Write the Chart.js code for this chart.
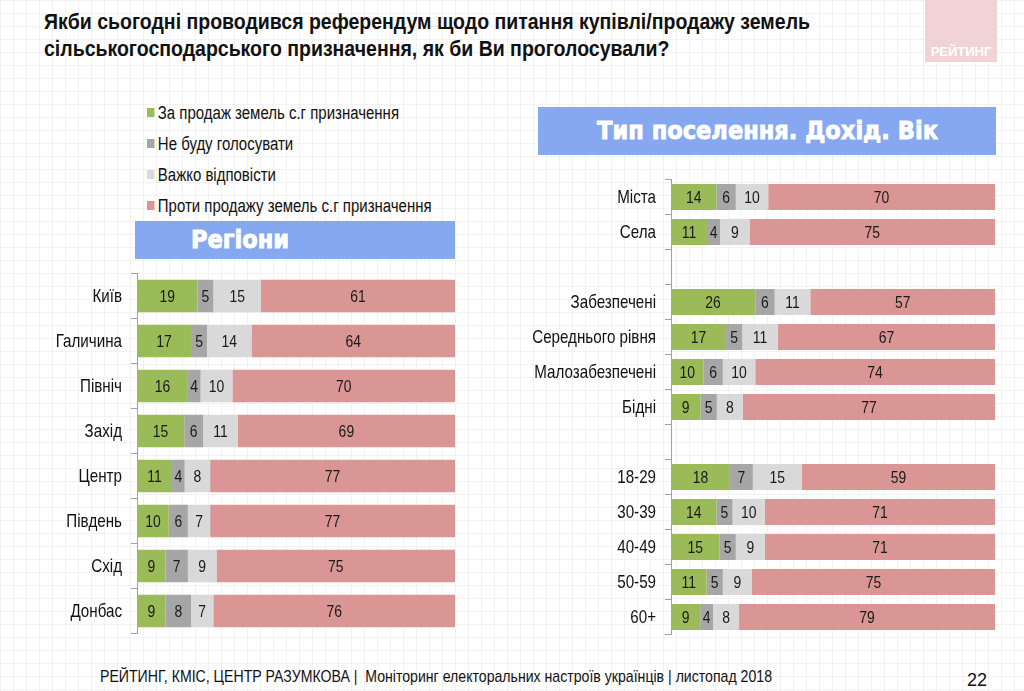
<!DOCTYPE html>
<html><head><meta charset="utf-8">
<script src="https://cdn.jsdelivr.net/npm/chart.js@4/dist/chart.umd.min.js"></script>
<style>
html,body{margin:0;padding:0;}
body{width:1024px;height:691px;position:relative;overflow:hidden;
 background-color:#fff;
 background-image:linear-gradient(#f2f2f2 1px,transparent 1px),linear-gradient(90deg,#f2f2f2 1px,transparent 1px);
 background-size:13px 13px;
 font-family:"Liberation Sans",Arial,sans-serif;}
.abs{position:absolute;white-space:nowrap;}
.title{left:44px;font-size:22px;font-weight:bold;line-height:26px;color:#111;}
#logo{left:925px;top:0;width:72px;height:62px;background:#f2d3d5;}
#logo span{position:absolute;left:0;right:0;top:44px;text-align:center;color:#fff;font-weight:bold;font-size:13px;}
.leg{left:147px;font-size:18px;color:#111;line-height:20px;}
.leg i{display:inline-block;width:9px;height:9px;margin-right:4px;vertical-align:2px;}
.banner{background:#86a8f0;}
.btext{color:#fff;font-family:"DejaVu Sans",sans-serif;font-weight:bold;font-size:24px;line-height:28px;-webkit-text-stroke:0.9px #fff;}
#footer{left:100px;top:667px;font-size:17px;color:#111;}
#page{left:967px;top:670px;font-size:18px;color:#111;}
canvas{position:absolute;}
</style></head>
<body>
<div id="t1" class="abs title" style="top:9px;">Якби сьогодні проводився референдум щодо питання купівлі/продажу земель</div>
<div id="t2" class="abs title" style="top:36px;">сільськогосподарського призначення, як би Ви проголосували?</div>
<div id="logo" class="abs"><span>РЕЙТИНГ</span></div>
<div id="legend"></div>
<div class="abs banner" style="left:135px;top:221px;width:320px;height:38px;"></div>
<div id="b1" class="abs btext" style="left:191px;top:226px;">Регіони</div>
<div class="abs banner" style="left:538px;top:107px;width:458px;height:48px;"></div>
<div id="b2" class="abs btext" style="left:597px;top:117px;">Тип поселення. Дохід. Вік</div>
<div id="footer" class="abs">РЕЙТИНГ, КМІС, ЦЕНТР РАЗУМКОВА |&nbsp; Моніторинг електоральних настроїв українців | листопад 2018</div>
<div id="page" class="abs">22</div>
<div class="abs" style="left:0;top:265px;width:465px;height:375px;"><canvas id="c1"></canvas></div>
<div class="abs" style="left:520px;top:170px;width:490px;height:470px;"><canvas id="c2"></canvas></div>
<script>
const seriesNames = ["За продаж земель с.г призначення","Не буду голосувати","Важко відповісти","Проти продажу земель с.г призначення"];
const seriesColors = ["#9bbb59","#a6a6a6","#d9d9d9","#d99694"];

const regionLabels = ["Київ","Галичина","Північ","Захід","Центр","Південь","Схід","Донбас"];
const regionFor    = [19,17,16,15,11,10,9,9];
const regionNoVote = [5,5,4,6,4,6,7,8];
const regionHard   = [15,14,10,11,8,7,9,7];
const regionAgainst= [61,64,70,69,77,77,75,76];

const groupLabels  = ["Міста","Села","","Забезпечені","Середнього рівня","Малозабезпечені","Бідні","","18-29","30-39","40-49","50-59","60+"];
const groupFor     = [14,11,null,26,17,10,9,null,18,14,15,11,9];
const groupNoVote  = [6,4,null,6,5,6,5,null,7,5,5,5,4];
const groupHard    = [10,9,null,11,11,10,8,null,15,10,9,9,8];
const groupAgainst = [70,75,null,57,67,74,77,null,59,71,71,75,79];

// legend (HTML)
const legDiv = document.getElementById('legend');
const legTops = [103,134,165,196];
seriesNames.forEach((n,i)=>{
  const d=document.createElement('div'); d.className='abs leg'; d.style.top=legTops[i]+'px';
  d.innerHTML='<i style="background:'+seriesColors[i]+'"></i><span>'+n+'</span>'; legDiv.appendChild(d);
});

// condense text horizontally to match the narrow typeface of the original
function fitWidth(el, target){
  el.style.transformOrigin='left center';
  const w=el.getBoundingClientRect().width;
  const s=target/w; el.style.transform='scaleX('+s+')'; return s;
}
const ts = fitWidth(document.getElementById('t1'), 766);
const t2 = document.getElementById('t2'); t2.style.transformOrigin='left center'; t2.style.transform='scaleX('+ts+')';
const legEls=[...document.querySelectorAll('.leg')];
const ls = fitWidth(legEls[0], 252);
legEls.forEach(e=>{e.style.transformOrigin='left center';e.style.transform='scaleX('+ls+')';});
fitWidth(document.getElementById('footer'), 672);
fitWidth(document.getElementById('b1'), 98);
fitWidth(document.getElementById('b2'), 341);

const FONT = '"Liberation Sans",Arial,sans-serif';
const SX = 0.82;

const narrowLabels = {
  id:'narrowLabels',
  afterDatasetsDraw(chart){
    const ctx=chart.ctx; ctx.save();
    // values inside segments
    ctx.font='17px '+FONT; ctx.fillStyle='#1a1a1a'; ctx.textAlign='center'; ctx.textBaseline='middle';
    chart.data.datasets.forEach((ds,di)=>{
      chart.getDatasetMeta(di).data.forEach((el,i)=>{
        const v=ds.raw[i]; if(v==null) return;
        ctx.save(); ctx.translate((el.x+el.base)/2, el.y+1); ctx.scale(SX,1);
        ctx.fillText(String(v),0,0); ctx.restore();
      });
    });
    // category labels
    const ys=chart.scales.y;
    ctx.font='18.5px '+FONT; ctx.fillStyle='#111'; ctx.textAlign='right';
    chart.data.labels.forEach((lab,i)=>{
      if(!lab) return;
      ctx.save(); ctx.translate(ys.right-15, ys.getPixelForTick(i)+1); ctx.scale(SX,1);
      ctx.fillText(lab,0,0); ctx.restore();
    });
    ctx.restore();
  }
};

function build(id, labels, arrays, yWidth, pad, barPct){
  const totals = labels.map((_,i)=>arrays.reduce((s,a)=>s+(a[i]||0),0));
  const datasets = arrays.map((a,k)=>({
    label: seriesNames[k],
    raw: a,
    data: a.map((v,i)=> v==null?null: v/totals[i]*100),
    backgroundColor: seriesColors[k],
    borderWidth:0,
    barPercentage:barPct, categoryPercentage:1
  }));
  return new Chart(document.getElementById(id),{
    type:'bar',
    data:{labels, datasets},
    options:{
      indexAxis:'y', responsive:true, maintainAspectRatio:false, animation:false,
      layout:{padding:pad},
      plugins:{legend:{display:false},tooltip:{enabled:false}},
      scales:{
        x:{stacked:true,display:false,min:0,max:100},
        y:{stacked:true,
           afterFit(s){s.width=yWidth;},
           border:{display:true,color:'#a0a0a0',width:1},
           grid:{display:true,drawOnChartArea:false,drawTicks:true,tickLength:6,color:'#a0a0a0',offset:true},
           ticks:{display:false}
        }
      }
    },
    plugins:[narrowLabels]
  });
}
build('c1', regionLabels, [regionFor,regionNoVote,regionHard,regionAgainst], 137, {top:8.5,bottom:6.5,left:0,right:10}, 0.72);
build('c2', groupLabels, [groupFor,groupNoVote,groupHard,groupAgainst], 151, {top:9.5,bottom:5.5,left:0,right:15}, 0.74);
</script>
</body></html>
